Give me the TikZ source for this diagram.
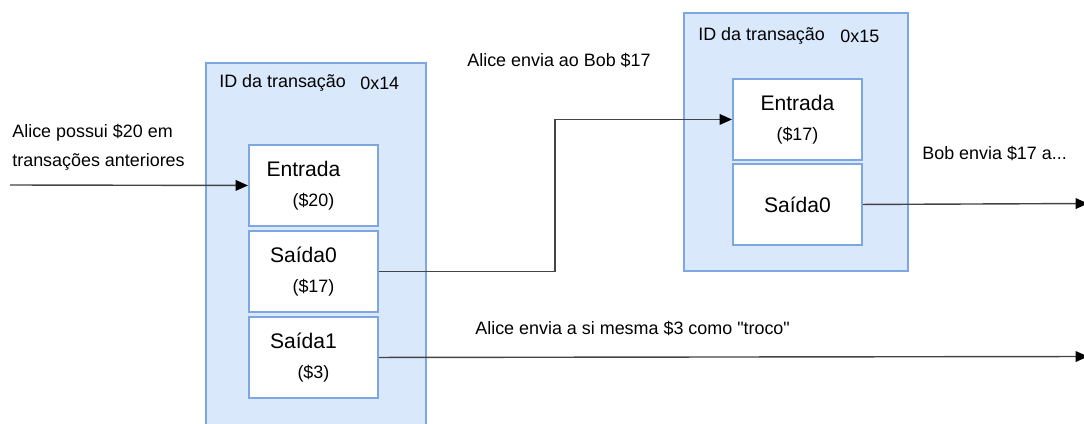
\documentclass[tikz,border=0pt]{standalone}
\usepackage{fontspec}
\setmainfont{Liberation Sans}
\usetikzlibrary{arrows.meta, positioning}

\definecolor{txfill}{HTML}{DAE8FC}
\definecolor{txline}{HTML}{7EA6E0}
\definecolor{wirecol}{HTML}{444444}

\begin{document}
\begin{tikzpicture}[x=0.02cm, y=-0.02cm,
    txbox/.style={draw=txline, fill=txfill, line width=1.1pt, inner sep=0pt, anchor=north west},
    slot/.style={draw=txline, fill=white, line width=1.1pt, inner sep=0pt, anchor=north west,
        minimum width=2.58cm, minimum height=1.62cm, align=center, font=\fontsize{12}{17}\selectfont},
    wire/.style={draw=wirecol, line width=0.8pt},
    tip/.style={-{Triangle[length=7pt,width=6pt,color=black]}},
    note/.style={font=\fontsize{10.2}{16.4}\selectfont, align=left, inner sep=0pt, anchor=west}]

	% page window, 1 unit = 1 px
	\useasboundingbox (0,0) rectangle (1084,423);
	\clip (0,0) rectangle (1084,423);

	% transaction 0x14 (runs off the bottom edge)
	\node[txbox, minimum width=4.4cm, minimum height=7.8cm] (tx14) at (205,62) {};
	\node[note] (id14) at (219,83) {ID da transação};
	\node[note] (hex14) at (360,83) {0x14};
	\node[slot] (in20) at (248,144) {Entrada\hspace*{0.4cm}\\{\fontsize{10.2}{12}\selectfont (\$20)}};
	\node[slot] (out17) at (248,230) {Saída0\hspace*{0.4cm}\\{\fontsize{10.2}{12}\selectfont (\$17)}};
	\node[slot] (out3) at (248,316) {Saída1\hspace*{0.4cm}\\{\fontsize{10.2}{12}\selectfont (\$3)}};

	% transaction 0x15
	\node[txbox, minimum width=4.48cm, minimum height=5.16cm] (tx15) at (683,12) {};
	\node[note] (id15) at (698,36) {ID da transação};
	\node[note] (hex15) at (840,36) {0x15};
	\node[slot] (in17) at (732,78) {Entrada\\{\fontsize{10.2}{12}\selectfont (\$17)}};
	\node[slot] (bob0) at (732,163) {Saída0};

	% free ends of the connectors
	\coordinate (prev) at (10,185);
	\coordinate (bobend) at (1088,203.5);
	\coordinate (chgend) at (1088,356.5);

	% connectors
	\draw[wire, tip] (prev) -- (in20.west);
	\draw[wire, tip] (out17.east) -- ++(176,0) |- (in17.west);
	\draw[wire, tip] (bob0.east) -- (bobend);
	\draw[wire, tip] (out3.east) -- (chgend);

	% connector labels
	\node[note] (prevtxt) at (12,147.5) {Alice possui \$20 em\\transações anteriores};
	\node[note] (sendtxt) at (467,60) {Alice envia ao Bob \$17};
	\node[note] (bobtxt) at (922,153) {Bob envia \$17 a...};
	\node[note] (chgtxt) at (475,328) {Alice envia a si mesma \$3 como \textquotedbl{}troco\textquotedbl};

\end{tikzpicture}
\end{document}
